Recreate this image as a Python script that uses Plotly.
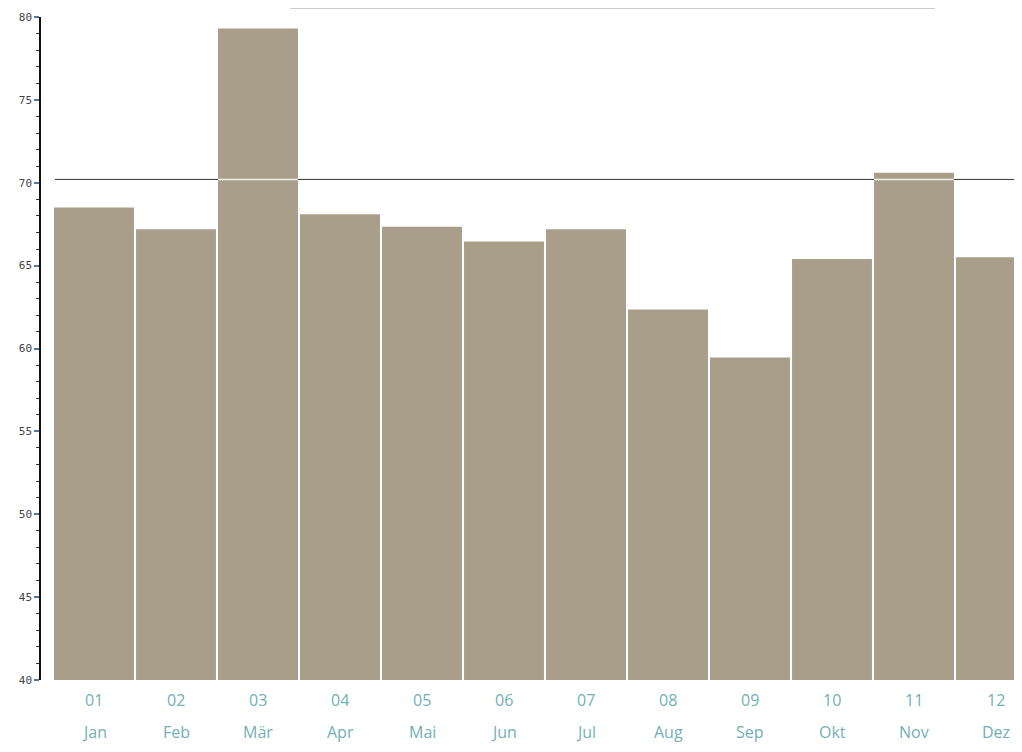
import plotly.graph_objects as go

months_num = ["01", "02", "03", "04", "05", "06", "07", "08", "09", "10", "11", "12"]
months_name = ["Jan", "Feb", "Mär", "Apr", "Mai", "Jun", "Jul", "Aug", "Sep", "Okt", "Nov", "Dez"]
values = [68.5, 67.2, 79.3, 68.1, 67.35, 66.45, 67.2, 62.35, 59.45, 65.4, 70.6, 65.5]
reference_value = 70.2

x_idx = list(range(len(values)))

OFF = 8  # page body margin
W, H = 1022 - OFF, 752 - OFF
L, R, T, B = 41 - OFF, 0, 17 - OFF, 72
ph = H - T - B
pw = W - L - R
bottom_page = 680


def ypaper(page_y):
    return (bottom_page - page_y) / ph


def xpaper(page_x):
    return (page_x - 41) / pw


fig = go.Figure()

# reference line (dark, under bars)
fig.add_shape(type="line", xref="paper", yref="y", x0=xpaper(55), x1=1, y0=reference_value, y1=reference_value,
              line=dict(color="#333333", width=1), layer="below")

fig.add_trace(go.Bar(
    x=x_idx, y=values, base=0,
    marker=dict(color="#a99e8a", line=dict(width=0)),
    width=0.975, showlegend=False, hoverinfo="skip",
))

# white part of reference line over bars taller than the line
for i, v in zip(x_idx, values):
    if v > reference_value:
        fig.add_trace(go.Scatter(x=[i - 0.487, i + 0.487], y=[reference_value, reference_value], mode="lines",
                                 line=dict(color="#f4f1ea", width=1.5), showlegend=False, hoverinfo="skip"))

# two-row month labels
for i, n, m in zip(x_idx, months_num, months_name):
    fig.add_annotation(x=i, xref="x", y=ypaper(700), yref="paper", text=n, showarrow=False,
                       yanchor="middle", font=dict(family="Open Sans", size=16, color="#72b0b6"))
    fig.add_annotation(x=i, xref="x", y=ypaper(732), yref="paper", text=m, showarrow=False,
                       yanchor="middle", font=dict(family="Open Sans", size=16, color="#72b0b6"))

# partial legend frame at top
for xe in (290, 935):
    fig.add_shape(type="line", xref="paper", yref="paper", x0=xpaper(xe), x1=xpaper(xe),
                  y0=ypaper(8), y1=ypaper(-OFF), line=dict(color="#9a9a9a", width=1))
fig.add_shape(type="line", xref="paper", yref="paper",
              x0=xpaper(290), x1=xpaper(935), y0=ypaper(8), y1=ypaper(8),
              line=dict(color="#9a9a9a", width=1))

fig.update_xaxes(
    tickvals=x_idx, showticklabels=False,
    range=[-(94 - 41) / 82, 11 + (1022 - 996) / 82],
    showgrid=False, zeroline=False, showline=False, ticks="",
)
fig.update_yaxes(
    range=[40, 80], tickvals=[40, 45, 50, 55, 60, 65, 70, 75, 80],
    showgrid=False, zeroline=False,
    showline=True, linecolor="#111111", linewidth=1.5,
    ticks="outside", ticklen=5, tickcolor="#4a78b0", tickwidth=1.5,
    minor=dict(dtick=1, ticks="outside", ticklen=3, tickcolor="#333333", tickwidth=1),
    tickfont=dict(family="DejaVu Sans Mono", size=11, color="#444444"),
)

fig.update_layout(
    width=W, height=H,
    margin=dict(l=L, r=R, t=T, b=B, autoexpand=False),
    plot_bgcolor="white", paper_bgcolor="white",
    bargap=0.02,
)

fig.write_html("out.html")
